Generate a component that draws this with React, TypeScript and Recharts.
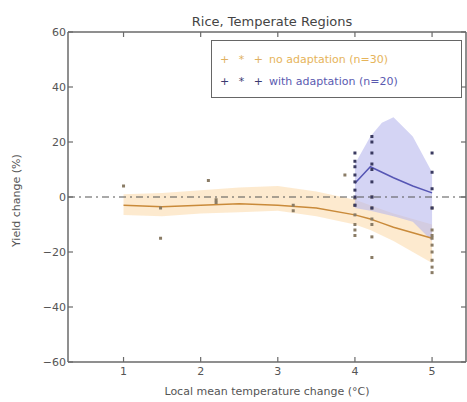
import React from 'react';
import {
  ComposedChart,
  Area,
  Line,
  Scatter,
  XAxis,
  YAxis,
  ReferenceLine,
} from 'recharts';

// fitted curves, sampled along local warming (°C)
const bandX = [1, 1.5, 2, 2.5, 3, 3.5, 4, 4.2, 4.35, 4.5, 4.75, 5];
const noAdaptMean = [-3, -3.5, -3, -2.5, -3, -4, -6.5, -8, -9.5, -11, -13, -15];
const noAdaptLow = [-6.5, -7, -6, -5.5, -5, -7, -10, -12, -14, -16, -20, -24];
const noAdaptHigh = [1, 1.5, 2.5, 3.5, 4, 2, -1, -3, -4.5, -6, -8, -10];
const withAdaptMean = [null, null, null, null, null, null, 5, 11, 9, 7, 4, 1.5];
const withAdaptLow = [null, null, null, null, null, null, -4, -5, -6, -7, -9, -16];
const withAdaptHigh = [null, null, null, null, null, null, 12, 22, 27, 29, 22, 9];

// individual study results
const noAdaptX = [1, 1.48, 1.48, 2.1, 2.2, 3.2, 3.87, 4, 4, 4, 4, 4, 4.22, 4.22, 4.22, 4.22, 4.22, 5, 5, 5, 5, 5, 5, 5, 5, 4, 4.22, 5, 3.2, 2.2];
const noAdaptY = [4, -15, -4, 6, -1, -5, 8, -0.4, -6.5, -10, -14, -3, -22, -14.5, -4, 0, -8, -14, -15, -17.5, -20, -23, -25.5, -27.5, -4, -12, -10, -12, -3, -2];
const withAdaptX = [4, 4, 4, 4, 4, 4, 4, 4.22, 4.22, 4.22, 4.22, 4.22, 4.22, 4.22, 5, 5, 5, 5, 4, 4.22];
const withAdaptY = [16, 13, 5.5, 2.5, 0, -3, 11, 22, 20, 16, 10, 5.5, 0, -4, 16, 9, 3, -4, 8, 12];

const yTicks = [-60, -40, -20, 0, 20, 40, 60];
const xTicks = [1, 2, 3, 4, 5];

const curveData = bandX.map((x, i) => ({
  x,
  noMean: noAdaptMean[i],
  noBand: [noAdaptLow[i], noAdaptHigh[i]],
  withMean: withAdaptMean[i],
  withBand: withAdaptLow[i] == null ? null : [withAdaptLow[i], withAdaptHigh[i]],
}));
const noPts = noAdaptX.map((x, i) => ({ x, y: noAdaptY[i] }));
const withPts = withAdaptX.map((x, i) => ({ x, y: withAdaptY[i] }));

const FONT = '"DejaVu Sans", sans-serif';
const AXIS = '#6a6a6a';

const LeftTick = (props: any) => {
  const { x, y, payload } = props;
  return (
    <g>
      <line x1={x} y1={y} x2={x + 5} y2={y} stroke={AXIS} strokeWidth={1.2} />
      <text x={x - 2} y={y + 4} textAnchor="end" fontSize={11} fill="#555" fontFamily={FONT}>
        {payload.value === 0 ? '0' : payload.value < 0 ? `\u2212${Math.abs(payload.value)}` : payload.value}
      </text>
    </g>
  );
};

const BottomTick = (props: any) => {
  const { x, y, payload } = props;
  return (
    <g>
      <line x1={x} y1={y} x2={x} y2={y - 5} stroke={AXIS} strokeWidth={1.2} />
      <text x={x} y={y + 13} textAnchor="middle" fontSize={11} fill="#555" fontFamily={FONT}>
        {payload.value}
      </text>
    </g>
  );
};

const TopTick = (props: any) => {
  const { x, y } = props;
  return <line x1={x} y1={y} x2={x} y2={y + 5} stroke={AXIS} strokeWidth={1.2} />;
};

const RightTick = (props: any) => {
  const { x, y } = props;
  return <line x1={x} y1={y} x2={x - 5} y2={y} stroke={AXIS} strokeWidth={1.2} />;
};

const dot = (color: string) => (props: any) => {
  const { cx, cy } = props;
  return <rect x={cx - 1.5} y={cy - 1.5} width={3} height={3} fill={color} />;
};

export default function App() {
  return (
    <div style={{ position: 'absolute', left: 0, top: 0, width: 467, height: 402, background: '#fff', fontFamily: FONT }}>
      <ComposedChart
        width={467}
        height={402}
        data={curveData}
        margin={{ top: 31, right: 0, left: 0, bottom: 0 }}
      >
        <XAxis
          dataKey="x"
          type="number"
          domain={[0.28, 5.44]}
          ticks={xTicks}
          allowDataOverflow
          stroke={AXIS}
          strokeWidth={1.5}
          tickLine={false}
          tickSize={0}
          tickMargin={0}
          tick={<BottomTick />}
          height={40}
          label={{ value: 'Local mean temperature change (\u00b0C)', position: 'insideBottom', offset: 7, fontSize: 11, fill: '#555', fontFamily: FONT }}
        />
        <XAxis
          xAxisId="top"
          dataKey="x"
          type="number"
          orientation="top"
          domain={[0.28, 5.44]}
          ticks={xTicks}
          allowDataOverflow
          stroke={AXIS}
          strokeWidth={1.5}
          tickLine={false}
          tickSize={0}
          tickMargin={0}
          tick={<TopTick />}
          height={1}
        />
        <YAxis
          type="number"
          domain={[-60, 60]}
          ticks={yTicks}
          allowDataOverflow
          stroke={AXIS}
          strokeWidth={1.5}
          tickLine={false}
          tickSize={0}
          tickMargin={0}
          tick={<LeftTick />}
          width={68}
          label={{ value: 'Yield change (%)', angle: -90, position: 'insideLeft', offset: 16, dy: 50, fontSize: 11, fill: '#555', fontFamily: FONT }}
        />
        <YAxis
          yAxisId="right"
          type="number"
          orientation="right"
          domain={[-60, 60]}
          ticks={yTicks}
          allowDataOverflow
          stroke={AXIS}
          strokeWidth={1.5}
          tickLine={false}
          tickSize={0}
          tickMargin={0}
          tick={<RightTick />}
          width={1}
        />
        <Area
          dataKey="noBand"
          stroke="none"
          fill="#fbd9a8"
          fillOpacity={0.55}
          isAnimationActive={false}
        />
        <Area
          dataKey="withBand"
          stroke="none"
          fill="#b8b8ec"
          fillOpacity={0.6}
          isAnimationActive={false}
        />
        <ReferenceLine y={0} stroke="#555" strokeWidth={1.2} strokeDasharray="7 4 2 4" />
        <Line
          dataKey="noMean"
          stroke="#c98a3a"
          strokeWidth={1.5}
          dot={false}
          isAnimationActive={false}
        />
        <Line
          dataKey="withMean"
          stroke="#5656b4"
          strokeWidth={1.5}
          dot={false}
          isAnimationActive={false}
        />
        {/* invisible series so the top and right frame axes are drawn */}
        <Line
          xAxisId="top"
          yAxisId="right"
          dataKey="noMean"
          stroke="none"
          dot={false}
          activeDot={false}
          isAnimationActive={false}
        />
        <Scatter data={noPts} dataKey="y" shape={dot('#8a7c66')} isAnimationActive={false} />
        <Scatter data={withPts} dataKey="y" shape={dot('#3a3a60')} isAnimationActive={false} />
      </ComposedChart>

      <div
        style={{
          position: 'absolute',
          left: 68,
          width: 408,
          top: 14,
          textAlign: 'center',
          fontSize: 13,
          color: '#444',
        }}
      >
        Rice, Temperate Regions
      </div>

      <div
        style={{
          position: 'absolute',
          left: 211,
          top: 40,
          width: 249,
          height: 56,
          border: '1.5px solid #666',
          background: '#fff',
          fontSize: 11,
        }}
      >
        <div style={{ position: 'absolute', left: 8, top: 12, color: '#e0b060', letterSpacing: 3 }}>+ * +</div>
        <div style={{ position: 'absolute', left: 57, top: 12, color: '#e6b45a' }}>no adaptation (n=30)</div>
        <div style={{ position: 'absolute', left: 8, top: 34, color: '#3a3a70', letterSpacing: 3 }}>+ * +</div>
        <div style={{ position: 'absolute', left: 57, top: 34, color: '#5a5ab0' }}>with adaptation (n=20)</div>
      </div>
    </div>
  );
}
